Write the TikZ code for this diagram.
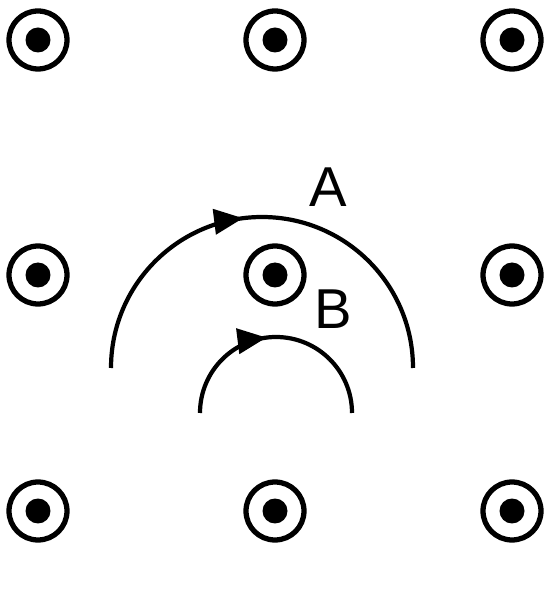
\documentclass[tikz,border=0pt]{standalone}
\usepackage{fontspec}
\setmainfont{Liberation Sans}
\usetikzlibrary{arrows.meta, decorations.markings}

\begin{document}
\begin{tikzpicture}[x=0.02cm, y=0.02cm]
        \tikzstyle{wire} = [circle, draw=black, line width=3pt, minimum size=1.16cm, inner sep=0pt]
        \tikzstyle{loop} = [line width=2.4pt, postaction={decorate}, decoration={markings, mark=at position 0.46 with {\arrow{Triangle[length=0.58cm, width=0.5cm]}}}]
        \tikzstyle{tag} = [font=\fontsize{32}{32}\selectfont, inner sep=0pt]
        \useasboundingbox (0,0) rectangle (544,595);
        % wires coming out of the page
        \foreach \i/\x in {1/38, 2/275, 3/512}
            \foreach \j/\y in {1/555, 2/320, 3/84} {
                \node (w\i\j) [wire] at (\x,\y) {};
                \fill (w\i\j) circle (0.25cm);
            }
        % the two loops
        \coordinate (startA) at (111,227);
        \coordinate (startB) at (200,182);
        \draw [loop] (startA) arc[start angle=180, end angle=0, radius=151];
        \draw [loop] (startB) arc[start angle=180, end angle=0, radius=76];
        \node (labA) [tag] at (328,408) {A};
        \node (labB) [tag] at (333,286) {B};
    \end{tikzpicture}
\end{document}
